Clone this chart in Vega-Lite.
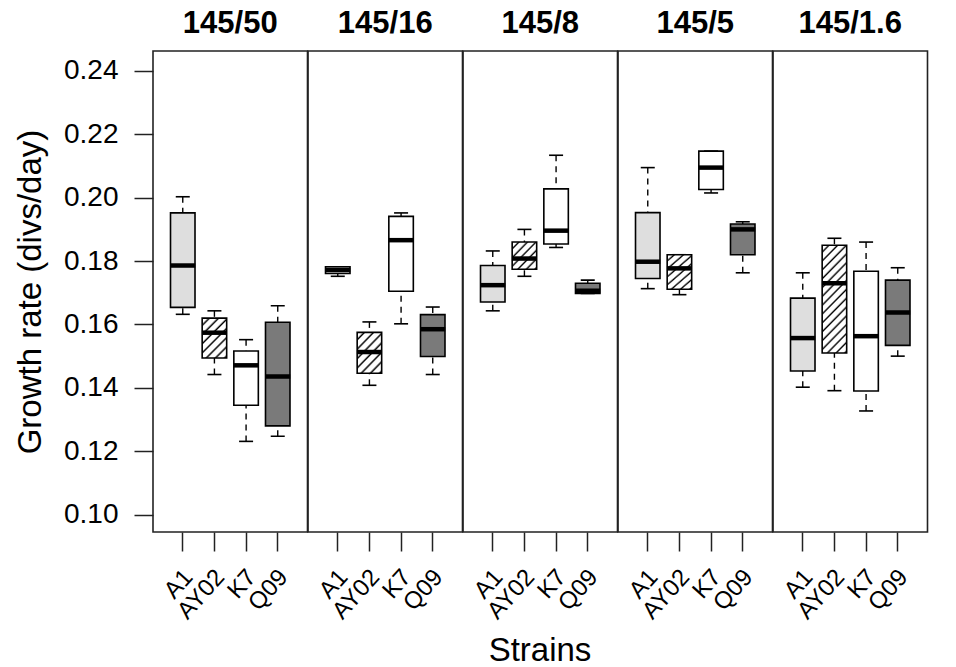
{
 "$schema": "https://vega.github.io/schema/vega-lite/v6.json",
 "padding": {"left": 14, "top": 8, "right": 5, "bottom": 0},
 "bounds": "flush",
 "data": {"values": [
  {"panel": "145/50", "strain": "A1", "lo": 0.1632, "q1": 0.1654, "med": 0.1786, "q3": 0.1952, "hi": 0.2003},
  {"panel": "145/50", "strain": "AY02", "lo": 0.1442, "q1": 0.1494, "med": 0.1574, "q3": 0.1620, "hi": 0.1643},
  {"panel": "145/50", "strain": "K7", "lo": 0.1231, "q1": 0.1345, "med": 0.1471, "q3": 0.1516, "hi": 0.1552},
  {"panel": "145/50", "strain": "Q09", "lo": 0.1247, "q1": 0.1280, "med": 0.1436, "q3": 0.1607, "hi": 0.1659},
  {"panel": "145/16", "strain": "A1", "lo": 0.1752, "q1": 0.1761, "med": 0.1772, "q3": 0.1782, "hi": 0.1782},
  {"panel": "145/16", "strain": "AY02", "lo": 0.1408, "q1": 0.1446, "med": 0.1513, "q3": 0.1575, "hi": 0.1608},
  {"panel": "145/16", "strain": "K7", "lo": 0.1602, "q1": 0.1705, "med": 0.1866, "q3": 0.1941, "hi": 0.1952},
  {"panel": "145/16", "strain": "Q09", "lo": 0.1442, "q1": 0.1499, "med": 0.1585, "q3": 0.1631, "hi": 0.1655},
  {"panel": "145/8", "strain": "A1", "lo": 0.1643, "q1": 0.1671, "med": 0.1724, "q3": 0.1786, "hi": 0.1832},
  {"panel": "145/8", "strain": "AY02", "lo": 0.1752, "q1": 0.1774, "med": 0.1808, "q3": 0.1860, "hi": 0.1900},
  {"panel": "145/8", "strain": "K7", "lo": 0.1843, "q1": 0.1854, "med": 0.1896, "q3": 0.2028, "hi": 0.2134},
  {"panel": "145/8", "strain": "Q09", "lo": 0.1698, "q1": 0.1698, "med": 0.1706, "q3": 0.1730, "hi": 0.1740},
  {"panel": "145/5", "strain": "A1", "lo": 0.1713, "q1": 0.1745, "med": 0.1798, "q3": 0.1953, "hi": 0.2095},
  {"panel": "145/5", "strain": "AY02", "lo": 0.1694, "q1": 0.1711, "med": 0.1777, "q3": 0.1820, "hi": 0.1820},
  {"panel": "145/5", "strain": "K7", "lo": 0.2015, "q1": 0.2026, "med": 0.2095, "q3": 0.2147, "hi": 0.2147},
  {"panel": "145/5", "strain": "Q09", "lo": 0.1763, "q1": 0.1820, "med": 0.1900, "q3": 0.1917, "hi": 0.1924},
  {"panel": "145/1.6", "strain": "A1", "lo": 0.1402, "q1": 0.1453, "med": 0.1557, "q3": 0.1683, "hi": 0.1763},
  {"panel": "145/1.6", "strain": "AY02", "lo": 0.1391, "q1": 0.1510, "med": 0.1730, "q3": 0.1850, "hi": 0.1872},
  {"panel": "145/1.6", "strain": "K7", "lo": 0.1327, "q1": 0.1390, "med": 0.1563, "q3": 0.1768, "hi": 0.1860},
  {"panel": "145/1.6", "strain": "Q09", "lo": 0.1500, "q1": 0.1534, "med": 0.1638, "q3": 0.1740, "hi": 0.1779}
 ]},
 "facet": {"column": {"field": "panel", "type": "nominal", "sort": ["145/50", "145/16", "145/8", "145/5", "145/1.6"], "title": "Strains",
   "header": {"labelFontSize": 31, "labelFontWeight": "bold", "labelPadding": -13, "labelBaseline": "alphabetic", "labelColor": "#000",
              "titleFontSize": 33, "titleFontWeight": "normal", "titleOrient": "bottom", "titlePadding": 1, "titleColor": "#000"}}},
 "spacing": 0,
 "spec": {
  "width": 154.5,
  "height": 481,
  "encoding": {"x": {"field": "strain", "type": "nominal", "sort": ["A1", "AY02", "K7", "Q09"], "title": null, "scale": {"paddingInner": 0, "paddingOuter": 0.44}}},
  "layer": [
   {"mark": {"type": "rule", "strokeDash": [6, 5], "strokeWidth": 1.4, "color": "#000"},
    "encoding": {"y": {"field": "hi", "type": "quantitative", "scale": {"domain": [0.0945, 0.2463], "nice": false, "zero": false}, "title": "Growth rate (divs/day)", "axis": {"values": [0.1, 0.12, 0.14, 0.16, 0.18, 0.2, 0.22, 0.24], "format": ".2f"}},
                 "y2": {"field": "q3"}}},
   {"mark": {"type": "rule", "strokeDash": [6, 5], "strokeWidth": 1.4, "color": "#000"},
    "encoding": {"y": {"field": "lo", "type": "quantitative", "scale": {"domain": [0.0945, 0.2463], "nice": false, "zero": false}, "title": "Growth rate (divs/day)", "axis": {"values": [0.1, 0.12, 0.14, 0.16, 0.18, 0.2, 0.22, 0.24], "format": ".2f"}},
                 "y2": {"field": "q1"}}},
   {"mark": {"type": "tick", "size": 14, "thickness": 1.6, "color": "#000", "opacity": 1},
    "encoding": {"y": {"field": "hi", "type": "quantitative", "scale": {"domain": [0.0945, 0.2463], "nice": false, "zero": false}, "title": "Growth rate (divs/day)", "axis": {"values": [0.1, 0.12, 0.14, 0.16, 0.18, 0.2, 0.22, 0.24], "format": ".2f"}}}},
   {"mark": {"type": "tick", "size": 14, "thickness": 1.6, "color": "#000", "opacity": 1},
    "encoding": {"y": {"field": "lo", "type": "quantitative", "scale": {"domain": [0.0945, 0.2463], "nice": false, "zero": false}, "title": "Growth rate (divs/day)", "axis": {"values": [0.1, 0.12, 0.14, 0.16, 0.18, 0.2, 0.22, 0.24], "format": ".2f"}}}},
   {"transform": [{"filter": "datum.strain !== 'AY02'"}],
    "mark": {"type": "bar", "size": 24.5, "stroke": "#000", "strokeWidth": 1.6, "opacity": 1},
    "encoding": {"y": {"field": "q3", "type": "quantitative", "scale": {"domain": [0.0945, 0.2463], "nice": false, "zero": false}, "title": "Growth rate (divs/day)", "axis": {"values": [0.1, 0.12, 0.14, 0.16, 0.18, 0.2, 0.22, 0.24], "format": ".2f"}},
                 "y2": {"field": "q1"},
                 "fill": {"field": "strain", "type": "nominal", "scale": {"domain": ["A1", "K7", "Q09"], "range": ["#dedede", "#ffffff", "#7a7a7a"]}, "legend": null}}},
   {"transform": [{"filter": "datum.strain === 'AY02'"}],
    "mark": {"type": "bar", "size": 24.5, "stroke": "#000", "strokeWidth": 1.6, "opacity": 1},
    "encoding": {"y": {"field": "q3", "type": "quantitative", "scale": {"domain": [0.0945, 0.2463], "nice": false, "zero": false}, "title": "Growth rate (divs/day)", "axis": {"values": [0.1, 0.12, 0.14, 0.16, 0.18, 0.2, 0.22, 0.24], "format": ".2f"}},
                 "y2": {"field": "q1"},
                 "fill": {"condition": [
                   {"test": "datum.panel === '145/50' || datum.panel === '145/16' || datum.panel === '145/5'", "value": {"gradient": "linear", "x1": 0, "y1": 0, "x2": 0.72, "y2": 1.17, "stops": [
                     {"offset": 0, "color": "#fff"},
                     {"offset": 0.0786, "color": "#fff"}, {"offset": 0.1143, "color": "#000"}, {"offset": 0.1429, "color": "#fff"},
                     {"offset": 0.2214, "color": "#fff"}, {"offset": 0.2571, "color": "#000"}, {"offset": 0.2857, "color": "#fff"},
                     {"offset": 0.3643, "color": "#fff"}, {"offset": 0.4, "color": "#000"}, {"offset": 0.4286, "color": "#fff"},
                     {"offset": 0.5071, "color": "#fff"}, {"offset": 0.5429, "color": "#000"}, {"offset": 0.5714, "color": "#fff"},
                     {"offset": 0.65, "color": "#fff"}, {"offset": 0.6857, "color": "#000"}, {"offset": 0.7143, "color": "#fff"},
                     {"offset": 0.7929, "color": "#fff"}, {"offset": 0.8286, "color": "#000"}, {"offset": 0.8571, "color": "#fff"},
                     {"offset": 0.9357, "color": "#fff"}, {"offset": 0.9714, "color": "#000"}, {"offset": 1, "color": "#fff"}]}},
                   {"test": "datum.panel === '145/8'", "value": {"gradient": "linear", "x1": 0, "y1": 0, "x2": 0.954, "y2": 1.042, "stops": [
                     {"offset": 0, "color": "#fff"},
                     {"offset": 0.0917, "color": "#fff"}, {"offset": 0.1333, "color": "#000"}, {"offset": 0.1667, "color": "#fff"},
                     {"offset": 0.2583, "color": "#fff"}, {"offset": 0.3, "color": "#000"}, {"offset": 0.3333, "color": "#fff"},
                     {"offset": 0.425, "color": "#fff"}, {"offset": 0.4667, "color": "#000"}, {"offset": 0.5, "color": "#fff"},
                     {"offset": 0.5917, "color": "#fff"}, {"offset": 0.6333, "color": "#000"}, {"offset": 0.6667, "color": "#fff"},
                     {"offset": 0.7583, "color": "#fff"}, {"offset": 0.8, "color": "#000"}, {"offset": 0.8333, "color": "#fff"},
                     {"offset": 0.925, "color": "#fff"}, {"offset": 0.9667, "color": "#000"}, {"offset": 1, "color": "#fff"}]}},
                   {"test": "datum.panel === '145/1.6'", "value": {"gradient": "linear", "x1": 0, "y1": 0, "x2": 0.271, "y2": 1.169, "stops": [
                     {"offset": 0, "color": "#fff"},
                     {"offset": 0.0367, "color": "#fff"}, {"offset": 0.0533, "color": "#000"}, {"offset": 0.0667, "color": "#fff"},
                     {"offset": 0.1033, "color": "#fff"}, {"offset": 0.12, "color": "#000"}, {"offset": 0.1333, "color": "#fff"},
                     {"offset": 0.17, "color": "#fff"}, {"offset": 0.1867, "color": "#000"}, {"offset": 0.2, "color": "#fff"},
                     {"offset": 0.2367, "color": "#fff"}, {"offset": 0.2533, "color": "#000"}, {"offset": 0.2667, "color": "#fff"},
                     {"offset": 0.3033, "color": "#fff"}, {"offset": 0.32, "color": "#000"}, {"offset": 0.3333, "color": "#fff"},
                     {"offset": 0.37, "color": "#fff"}, {"offset": 0.3867, "color": "#000"}, {"offset": 0.4, "color": "#fff"},
                     {"offset": 0.4367, "color": "#fff"}, {"offset": 0.4533, "color": "#000"}, {"offset": 0.4667, "color": "#fff"},
                     {"offset": 0.5033, "color": "#fff"}, {"offset": 0.52, "color": "#000"}, {"offset": 0.5333, "color": "#fff"},
                     {"offset": 0.57, "color": "#fff"}, {"offset": 0.5867, "color": "#000"}, {"offset": 0.6, "color": "#fff"},
                     {"offset": 0.6367, "color": "#fff"}, {"offset": 0.6533, "color": "#000"}, {"offset": 0.6667, "color": "#fff"},
                     {"offset": 0.7033, "color": "#fff"}, {"offset": 0.72, "color": "#000"}, {"offset": 0.7333, "color": "#fff"},
                     {"offset": 0.77, "color": "#fff"}, {"offset": 0.7867, "color": "#000"}, {"offset": 0.8, "color": "#fff"},
                     {"offset": 0.8367, "color": "#fff"}, {"offset": 0.8533, "color": "#000"}, {"offset": 0.8667, "color": "#fff"},
                     {"offset": 0.9033, "color": "#fff"}, {"offset": 0.92, "color": "#000"}, {"offset": 0.9333, "color": "#fff"},
                     {"offset": 0.97, "color": "#fff"}, {"offset": 0.9867, "color": "#000"}, {"offset": 1, "color": "#fff"}]}}
                 ], "value": "#ffffff"}}},
   {"mark": {"type": "tick", "size": 25, "thickness": 4.5, "color": "#000", "opacity": 1},
    "encoding": {"y": {"field": "med", "type": "quantitative", "scale": {"domain": [0.0945, 0.2463], "nice": false, "zero": false}, "title": "Growth rate (divs/day)", "axis": {"values": [0.1, 0.12, 0.14, 0.16, 0.18, 0.2, 0.22, 0.24], "format": ".2f"}}}}
  ]
 },
 "config": {
  "font": "Liberation Sans",
  "view": {"stroke": "#222", "strokeWidth": 1.6},
  "axis": {"domain": false, "grid": false, "tickColor": "#222", "tickWidth": 1.5, "tickSize": 19, "labelColor": "#000", "titleColor": "#000", "titleFontWeight": "normal"},
  "axisY": {"labelFontSize": 28, "titleFontSize": 33, "labelPadding": 16, "titlePadding": 16},
  "axisX": {"labelFontSize": 24, "labelAngle": -48, "labelAlign": "right", "labelBaseline": "middle", "labelPadding": 22, "labelOffset": 6}
 }
}
